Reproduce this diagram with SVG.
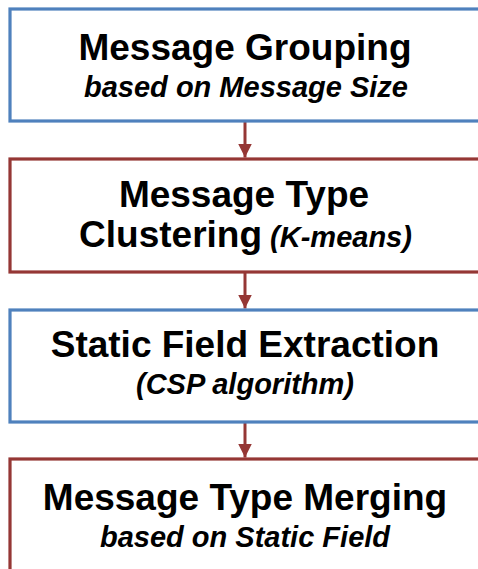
<svg xmlns="http://www.w3.org/2000/svg" width="478" height="569" viewBox="0 0 478 569">
<style>
.box{fill:#fff;stroke-width:3.2}
.blue{stroke:#4F81BD}
.red{stroke:#953735}
.t{font-family:"Liberation Sans",Arial,sans-serif;font-weight:bold;fill:#000;text-anchor:middle}
.h{font-size:37px}
.s{font-size:29px;font-style:italic}
.conn{stroke:#953735;stroke-width:3;fill:none}
</style>
<defs>
<marker id="ah" viewBox="0 0 14 14" refX="14" refY="7" markerWidth="14" markerHeight="14" markerUnits="userSpaceOnUse" orient="auto">
<path d="M0,0 L14,7 L0,14 Z" fill="#953735"/>
</marker>
</defs>
<rect width="478" height="569" fill="#fff"/>
<g id="connectors">
<line class="conn" x1="245" y1="122" x2="245" y2="157.5" marker-end="url(#ah)"/>
<line class="conn" x1="245" y1="273" x2="245" y2="308.5" marker-end="url(#ah)"/>
<line class="conn" x1="245" y1="423" x2="245" y2="457.5" marker-end="url(#ah)"/>
</g>
<g id="node1">
<rect class="box blue" x="10" y="9" width="490" height="112"/>
<text class="t h" x="245" y="60">Message Grouping</text>
<text class="t s" x="246" y="97">based on Message Size</text>
</g>
<g id="node2">
<rect class="box red" x="10" y="159" width="490" height="113"/>
<text class="t h" x="244" y="207">Message Type</text>
<text class="t" x="245.5" y="247"><tspan class="h">Clustering</tspan><tspan class="s"> (K-means)</tspan></text>
</g>
<g id="node3">
<rect class="box blue" x="10" y="310" width="490" height="112"/>
<text class="t h" x="245" y="357">Static Field Extraction</text>
<text class="t s" x="245" y="394">(CSP algorithm)</text>
</g>
<g id="node4">
<rect class="box red" x="10" y="459" width="490" height="130"/>
<text class="t h" x="245" y="510">Message Type Merging</text>
<text class="t s" x="245" y="547">based on Static Field</text>
</g>
</svg>
